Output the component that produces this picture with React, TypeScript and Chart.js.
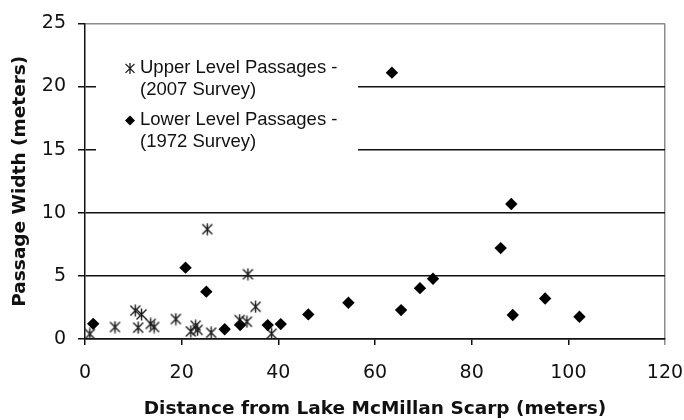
import React, { useEffect, useRef } from "react";
import { Chart, registerables } from "chart.js";

Chart.register(...registerables);

// ---- Data ----
const upperDistance = [1.0, 6.2, 10.4, 11.0, 11.7, 13.6, 14.3, 18.8, 21.9, 22.9, 23.3, 25.3, 26.1, 32.0, 33.5, 33.7, 35.3, 38.6];
const upperWidth = [0.4, 0.95, 2.25, 0.9, 1.95, 1.2, 0.95, 1.58, 0.6, 1.05, 0.72, 8.7, 0.5, 1.5, 1.37, 5.13, 2.55, 0.42];

const lowerDistance = [1.7, 20.8, 25.1, 28.9, 32.1, 37.8, 40.5, 46.2, 54.5, 63.5, 65.4, 69.3, 72.0, 86.0, 88.2, 88.5, 95.2, 102.3];
const lowerWidth = [1.2, 5.65, 3.75, 0.77, 1.1, 1.1, 1.18, 1.95, 2.87, 21.1, 2.29, 4.03, 4.77, 7.2, 10.69, 1.9, 3.21, 1.76];

const xTickValues = [0, 20, 40, 60, 80, 100, 120];
const yTickValues = [0, 5, 10, 15, 20, 25];

const xTitle = "Distance from Lake McMillan Scarp (meters)";
const yTitle = "Passage Width (meters)";
const upperLabel = ["Upper Level Passages -", "(2007 Survey)"];
const lowerLabel = ["Lower Level Passages -", "(1972 Survey)"];

function makeStar(size: number, lw: number, color: string): HTMLCanvasElement {
  const c = document.createElement("canvas");
  c.width = size;
  c.height = size;
  const g = c.getContext("2d")!;
  g.strokeStyle = color;
  g.lineWidth = lw;
  const m = size / 2;
  const a = 1.5;
  g.beginPath();
  g.moveTo(a, a);
  g.lineTo(size - a, size - a);
  g.moveTo(size - a, a);
  g.lineTo(a, size - a);
  g.moveTo(m, 0.5);
  g.lineTo(m, size - 0.5);
  g.stroke();
  return c;
}

export default function App() {
  const ref = useRef<HTMLCanvasElement | null>(null);

  useEffect(() => {
    if (!ref.current) return;
    const star = makeStar(13, 1.4, "#1a1a1a");

    const legendPlugin = {
      id: "customLegend",
      beforeDatasetsDraw(chart: any) {
        const { ctx, chartArea } = chart;
        const L = chartArea.left;
        const T = chartArea.top;
        ctx.save();
        ctx.fillStyle = "#ffffff";
        ctx.fillRect(L + 11, T + 25, 262, 133);
        ctx.fillStyle = "#111111";
        ctx.font = '18.5px "Liberation Sans", Arial, sans-serif';
        ctx.textBaseline = "middle";
        ctx.textAlign = "left";
        const tx = L + 55;
        ctx.fillText(upperLabel[0], tx, T + 45);
        ctx.fillText(upperLabel[1], tx, T + 67);
        ctx.fillText(lowerLabel[0], tx, T + 97);
        ctx.fillText(lowerLabel[1], tx, T + 119);
        // star marker
        const mx = L + 45;
        ctx.strokeStyle = "#1a1a1a";
        ctx.lineWidth = 1.3;
        ctx.beginPath();
        const sy = T + 45;
        ctx.moveTo(mx - 4.5, sy - 4.5);
        ctx.lineTo(mx + 4.5, sy + 4.5);
        ctx.moveTo(mx + 4.5, sy - 4.5);
        ctx.lineTo(mx - 4.5, sy + 4.5);
        ctx.moveTo(mx, sy - 5.5);
        ctx.lineTo(mx, sy + 5.5);
        ctx.stroke();
        // diamond marker
        const dy = T + 97;
        ctx.fillStyle = "#000000";
        ctx.beginPath();
        ctx.moveTo(mx - 5, dy);
        ctx.lineTo(mx, dy - 5);
        ctx.lineTo(mx + 5, dy);
        ctx.lineTo(mx, dy + 5);
        ctx.closePath();
        ctx.fill();
        ctx.restore();
      },
    };

    const chart = new Chart(ref.current, {
      type: "scatter",
      data: {
        datasets: [
          {
            label: upperLabel.join(" "),
            data: upperDistance.map((x, i) => ({ x, y: upperWidth[i] })),
            pointStyle: star as any,
            pointRadius: 6,
            backgroundColor: "#1a1a1a",
            borderColor: "#1a1a1a",
            order: 2,
          },
          {
            label: lowerLabel.join(" "),
            data: lowerDistance.map((x, i) => ({ x, y: lowerWidth[i] })),
            pointStyle: "rectRot",
            pointRadius: 6.2,
            backgroundColor: "#000000",
            borderColor: "#000000",
            borderWidth: 0,
            order: 1,
          },
        ],
      },
      options: {
        responsive: false,
        maintainAspectRatio: false,
        animation: false,
        events: [],
        layout: { padding: { left: 0, top: 19, right: 0, bottom: 0 } },
        plugins: {
          legend: { display: false },
          tooltip: { enabled: false },
        },
        scales: {
          x: {
            type: "linear",
            min: 0,
            max: 120,
            afterBuildTicks: (s: any) => {
              s.ticks = xTickValues.map((v) => ({ value: v }));
            },
            afterFit: (s: any) => {
              s.height = 81;
              s.paddingRight = 19;
            },
            ticks: {
              color: "#111111",
              font: { family: '"DejaVu Sans", sans-serif', size: 19 },
              padding: 17,
              maxRotation: 0,
            },
            grid: {
              drawOnChartArea: true,
              color: (c: any) => (c.tick && c.tick.value === 120 ? "#8c8c8c" : "rgba(0,0,0,0)"),
              tickColor: (c: any) => (c.tick && c.tick.value === 120 ? "#8c8c8c" : "#111111"),
              tickLength: 6,
              lineWidth: 1.5,
            },
            border: { display: true, color: "#111111", width: 1.5 },
            title: {
              display: true,
              text: xTitle,
              color: "#111111",
              font: { family: '"DejaVu Sans", sans-serif', size: 18.5, weight: "bold" },
              padding: { top: 0, bottom: 0 },
            },
          },
          y: {
            type: "linear",
            min: 0,
            max: 25,
            afterBuildTicks: (s: any) => {
              s.ticks = yTickValues.map((v) => ({ value: v }));
            },
            afterFit: (s: any) => {
              s.width = 85;
            },
            ticks: {
              color: "#111111",
              font: { family: '"DejaVu Sans", sans-serif', size: 19 },
              padding: 12,
            },
            grid: {
              color: (c: any) => (c.tick && c.tick.value === 25 ? "#8c8c8c" : "#111111"),
              tickColor: "#111111",
              tickLength: 7,
              lineWidth: 1.5,
            },
            border: { display: true, color: "#111111", width: 1.5 },
            title: {
              display: true,
              text: yTitle,
              color: "#111111",
              font: { family: '"DejaVu Sans", sans-serif', size: 18.5, weight: "bold" },
              padding: { top: 9, bottom: 0 },
            },
          },
        },
      },
      plugins: [legendPlugin],
    });

    return () => chart.destroy();
  }, []);

  return (
    <div style={{ position: "fixed", left: 0, top: 0, width: 684, height: 420, background: "#ffffff" }}>
      <canvas ref={ref} width={684} height={420} style={{ display: "block", width: 684, height: 420 }} />
    </div>
  );
}
